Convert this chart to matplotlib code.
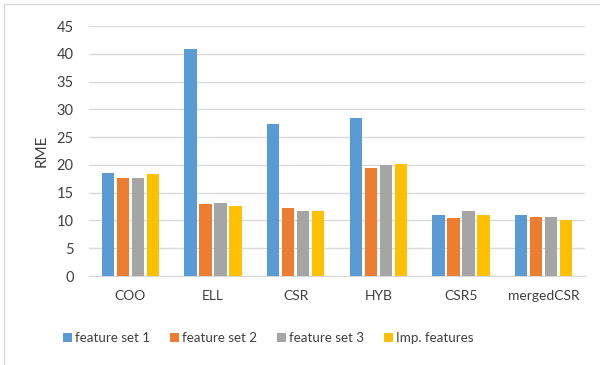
import matplotlib
matplotlib.use("Agg")
import matplotlib.pyplot as plt
import numpy as np
from matplotlib.patches import Rectangle

categories = ["COO", "ELL", "CSR", "HYB", "CSR5", "mergedCSR"]
series_names = ["feature set 1", "feature set 2", "feature set 3", "Imp. features"]
feature_set_1 = [18.6, 40.9, 27.3, 28.5, 11.0, 11.0]
feature_set_2 = [17.7, 12.9, 12.3, 19.5, 10.4, 10.7]
feature_set_3 = [17.7, 13.2, 11.7, 19.9, 11.7, 10.7]
imp_features = [18.3, 12.6, 11.7, 20.1, 11.0, 10.1]
y_ticks = [0, 5, 10, 15, 20, 25, 30, 35, 40, 45]

colors = ["#5B9BD5", "#ED7D31", "#A5A5A5", "#FFC000"]
text_color = "#404040"

plt.rcParams["font.family"] = ["Lato", "DejaVu Sans"]

fig = plt.figure(figsize=(6.0, 3.65), dpi=100)
# chart-area frame (only top and left edges fall inside the image)
fig.patches.append(Rectangle((0.007, -0.05), 1.05, 1.04, transform=fig.transFigure,
                             fill=False, edgecolor="#D9D9D9", linewidth=1.0))

ax = fig.add_axes([89 / 600, 1 - 276 / 365, 496 / 600, 250 / 365])

x = np.arange(len(categories))
step = 0.182
width = 0.148
all_series = [feature_set_1, feature_set_2, feature_set_3, imp_features]
for i, (vals, name, c) in enumerate(zip(all_series, series_names, colors)):
    ax.bar(x + (i - 1.5) * step, vals, width=width, color=c, label=name, zorder=3)

ax.set_xlim(-0.5, len(categories) - 0.5)
ax.set_ylim(0, 45)
ax.set_yticks(y_ticks)
ax.yaxis.grid(True, color="#D9D9D9", linewidth=1.0, zorder=0)
ax.set_axisbelow(True)
for s in ["top", "right", "left"]:
    ax.spines[s].set_visible(False)
ax.spines["bottom"].set_color("#D9D9D9")
ax.tick_params(axis="both", length=0, labelsize=10.5, colors=text_color)
ax.tick_params(axis="y", pad=11)
ax.tick_params(axis="x", pad=10, labelsize=10)
ax.set_xticks(x)
ax.set_xticklabels(categories)
ax.set_ylabel("RME", fontsize=11, color=text_color, labelpad=6)

handles, labels = ax.get_legend_handles_labels()
fig.legend(handles, labels, loc="center", bbox_to_anchor=(268 / 600, 1 - 338 / 365),
           ncol=4, frameon=False, fontsize=9.6, handlelength=0.7, handleheight=0.7,
           handletextpad=0.2, columnspacing=1.5, labelcolor=text_color)

fig.savefig("out.png", dpi=100)
